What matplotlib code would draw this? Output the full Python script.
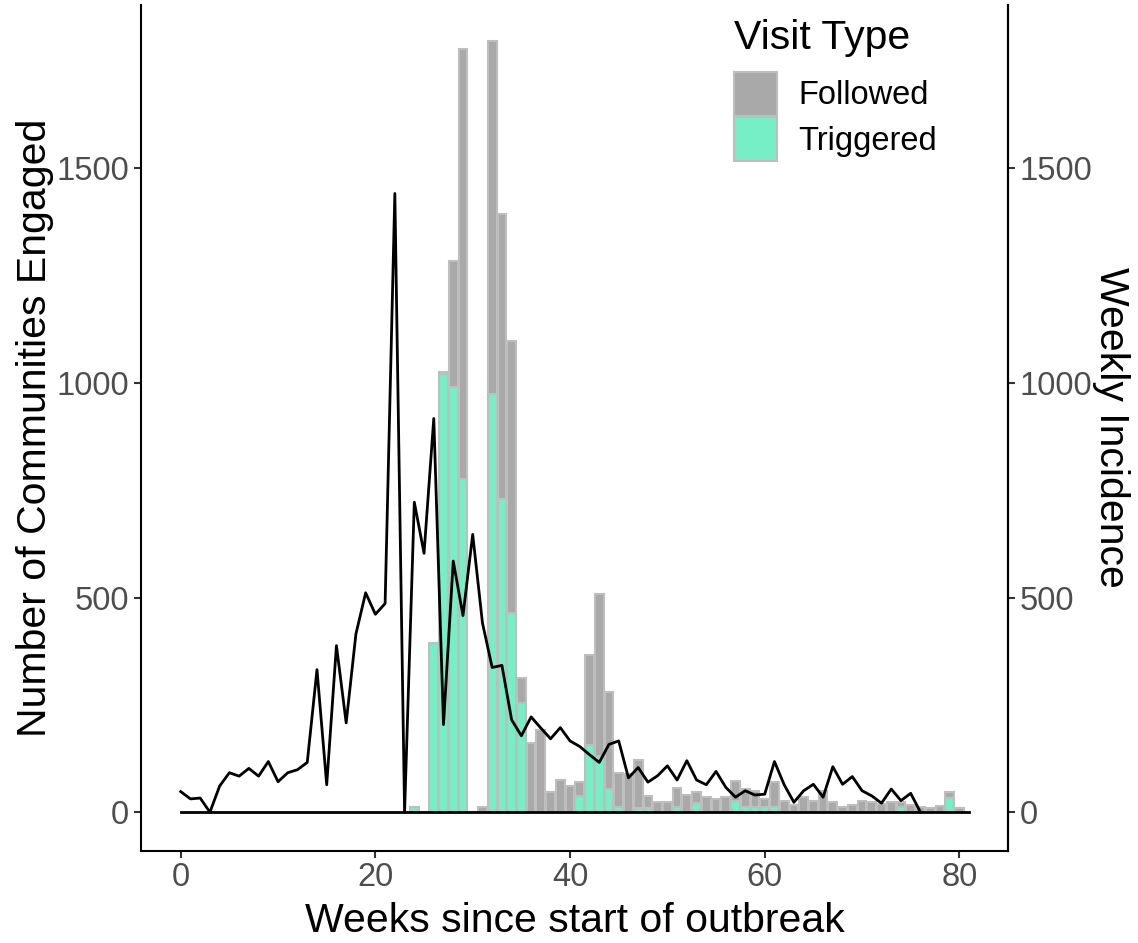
import matplotlib.pyplot as plt
from matplotlib.patches import Patch

plt.rcParams['font.family'] = ['Liberation Sans', 'DejaVu Sans']

# weekly incidence (line)
inc_weeks = list(range(0, 77))
incidence = [48, 31, 33, 0, 61, 92, 84, 102, 84, 118,
             71, 92, 99, 116, 332, 64, 388, 208, 415, 511,
             461, 486, 1441, 0, 722, 603, 917, 204, 585, 458,
             647, 441, 337, 342, 215, 178, 222, 196, 171, 197,
             166, 153, 134, 116, 158, 166, 80, 104, 70, 85,
             108, 75, 120, 75, 64, 95, 58, 35, 50, 40,
             42, 118, 64, 23, 50, 65, 35, 106, 65, 83,
             50, 38, 21, 54, 27, 44, 0]

# zero reference line
base_weeks = [0, 81]
base_vals = [0, 0]

# communities engaged per week, by visit type
bar_weeks = list(range(24, 81))
triggered = [12, 0, 394, 1020, 990, 775, 0, 0, 973, 729,
             464, 255, 0, 0, 0, 0, 0, 37, 157, 130,
             55, 12, 0, 10, 10, 0, 0, 13, 0, 22,
             0, 0, 0, 27, 12, 12, 12, 12, 0, 0,
             0, 0, 0, 0, 0, 0, 0, 0, 0, 0,
             12, 0, 0, 0, 0, 33, 0]
total = [12, 0, 394, 1025, 1284, 1778, 0, 12, 1795, 1393,
         1098, 313, 161, 192, 48, 75, 60, 71, 366, 509,
         279, 92, 90, 122, 38, 23, 23, 57, 41, 47,
         35, 31, 36, 73, 54, 50, 31, 71, 26, 17,
         35, 26, 50, 24, 12, 17, 25, 24, 19, 23,
         23, 17, 12, 10, 15, 48, 10]
followed = [t - g for t, g in zip(total, triggered)]

fig = plt.figure(figsize=(11.38, 9.43), dpi=100)
ax = fig.add_axes([0.1239, 0.0979, 0.7619, 0.8968])

edge = '#BEBEBE'
ax.bar(bar_weeks, triggered, width=0.9, color='#76EEC6', edgecolor=edge, linewidth=1.5)
ax.bar(bar_weeks, followed, width=0.9, bottom=triggered, color='#A9A9A9', edgecolor=edge, linewidth=1.5)
ax.plot(base_weeks, base_vals, color='black', lw=2)
ax.plot(inc_weeks, incidence, color='black', lw=2)

ax.set_xlim(-4.08, 85.0)
ax.set_ylim(-89.6, 1880)
ax.set_xticks([0, 20, 40, 60, 80])
ax.set_yticks([0, 500, 1000, 1500])

ax.spines['top'].set_visible(False)
for s in ['left', 'bottom', 'right']:
    ax.spines[s].set_linewidth(1.5)
ax.tick_params(labelsize=23.5, labelcolor='#4D4D4D', color='#333333', length=5, width=1.5)
ax.set_xlabel('Weeks since start of outbreak', fontsize=29.5, labelpad=6)
ax.set_ylabel('Number of Communities Engaged', fontsize=29.5, labelpad=2)

ax2 = ax.twinx()
ax2.set_ylim(ax.get_ylim())
ax2.set_yticks([0, 500, 1000, 1500])
ax2.tick_params(labelsize=23.5, labelcolor='#4D4D4D', color='#333333', length=5, width=1.5)
for s in ['top', 'left', 'bottom']:
    ax2.spines[s].set_visible(False)
ax2.spines['right'].set_linewidth(1.5)
ax2.set_ylabel('Weekly Incidence', fontsize=29.5, rotation=270, labelpad=27)

handles = [Patch(facecolor='#A9A9A9', edgecolor=edge, linewidth=1.5, label='Followed'),
           Patch(facecolor='#76EEC6', edgecolor=edge, linewidth=1.5, label='Triggered')]
leg = ax.legend(handles=handles, title='Visit Type', loc='upper left',
                bbox_to_anchor=(0.661, 1.007), frameon=False, fontsize=23.5,
                title_fontsize=29.5, handlelength=1.34, handleheight=1.68,
                handletextpad=0.64, labelspacing=0.05, alignment='left',
                borderaxespad=0.2)
leg._legend_box.sep = 11

fig.savefig('out.png', dpi=100)
